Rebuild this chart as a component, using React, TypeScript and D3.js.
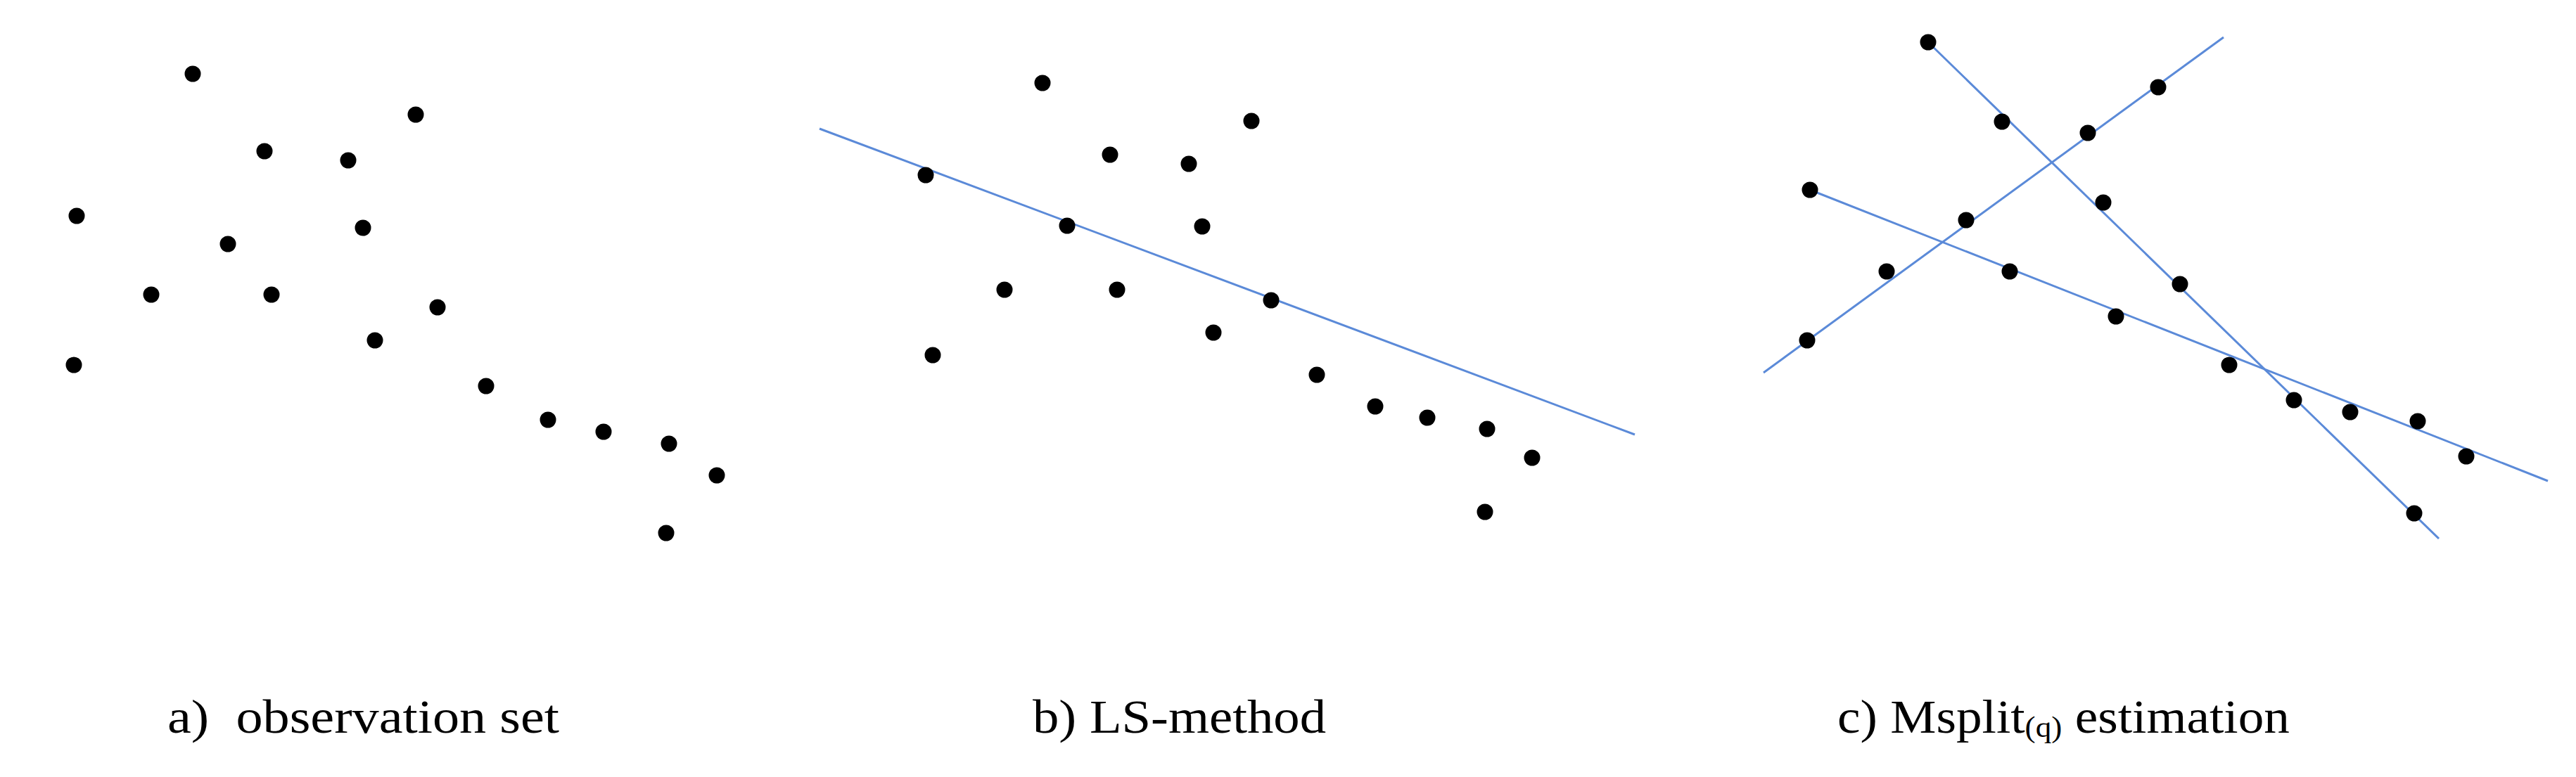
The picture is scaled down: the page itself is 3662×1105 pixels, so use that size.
import * as d3 from "d3";
import React from "react";

// observation points (x, y in plot units, y up)
const pointsA: [number, number][] = [
  [19.4, 69.5], [51.1, 63.7], [29.6, 58.5], [41.5, 57.2], [2.9, 49.3],
  [43.6, 47.6], [24.4, 45.3], [13.5, 38.1], [30.6, 38.1], [54.2, 36.3],
  [45.3, 31.6], [2.5, 28.1], [61.1, 25.1], [69.9, 20.3], [77.8, 18.6],
  [87.1, 16.9], [93.9, 12.4], [86.7, 4.2],
];

const pointsB: [number, number][] = [
  [34.2, 68.2], [63.9, 62.8], [43.8, 58.0], [55.0, 56.7], [17.6, 55.1],
  [37.7, 47.9], [56.9, 47.8], [28.8, 38.8], [44.8, 38.8], [66.7, 37.3],
  [58.5, 32.7], [18.6, 29.5], [73.2, 26.7], [81.5, 22.2], [88.9, 20.6],
  [97.4, 19.0], [103.8, 14.9], [97.1, 7.2],
];

const pointsC: [number, number][] = [
  [26.1, 74.0], [58.8, 67.6], [36.6, 62.7], [48.8, 61.1], [9.3, 53.0],
  [51.0, 51.2], [31.5, 48.7], [20.2, 41.4], [37.7, 41.4], [61.9, 39.6],
  [52.8, 35.0], [8.9, 31.6], [68.9, 28.1], [78.1, 23.1], [86.1, 21.4],
  [95.7, 20.1], [102.6, 15.1], [95.2, 7.0],
];

// fitted lines (end points)
const lineB: [number, number][][] = [
  [[2.5, 61.7], [118.4, 18.2]],
];

const linesC: [number, number][][] = [
  [[2.7, 27.0], [68.1, 74.7]],
  [[26.1, 74.0], [98.7, 3.4]],
  [[9.3, 53.0], [114.2, 11.6]],
];

const captions = ["a)\u00a0 observation set", "b) LS-method", "c) Msplit", "(q)", " estimation"];

const W = 3662;
const H = 1105;
const lineColor = "#5b8ad8";

function Panel(props: { left: number; points: [number, number][]; lines: [number, number][][] }) {
  const { left, points, lines } = props;

  // 10px per unit, y = 0 sits at 800px
  const xScale = d3.scaleLinear().domain([0, 120]).range([left, left + 1200]);
  const yScale = d3.scaleLinear().domain([0, 80]).range([800, 0]);

  const line = d3
    .line<[number, number]>()
    .x((d) => xScale(d[0]))
    .y((d) => yScale(d[1]));

  return (
    <g>
      {lines.map((l, i) => (
        <path key={"l" + i} d={line(l) || ""} fill="none" stroke={lineColor} strokeWidth={3} />
      ))}
      {points.map((p, i) => (
        <circle key={"p" + i} cx={xScale(p[0])} cy={yScale(p[1])} r={11.5} fill="#000" />
      ))}
    </g>
  );
}

export default function App() {
  const font = "'Liberation Serif', 'Times New Roman', serif";
  return (
    <svg
      width={W}
      height={H}
      style={{ position: "absolute", left: 0, top: 0, display: "block", background: "#fff" }}
    >
      <rect width={W} height={H} fill="#fff" />
      <Panel left={80} points={pointsA} lines={[]} />
      <Panel left={1140} points={pointsB} lines={lineB} />
      <Panel left={2480} points={pointsC} lines={linesC} />

      <g fontFamily={font} fontSize={68} fill="#000">
        <text x={238} y={1042} textLength={557} lengthAdjust="spacingAndGlyphs" style={{ whiteSpace: "pre" }}>
          {captions[0]}
        </text>
        <text x={1468} y={1042} textLength={417} lengthAdjust="spacingAndGlyphs">
          {captions[1]}
        </text>
        <text x={2612} y={1042} textLength={643} lengthAdjust="spacingAndGlyphs" style={{ whiteSpace: "pre" }}>
          <tspan>{captions[2]}</tspan>
          <tspan fontSize={42} dy={6}>{captions[3]}</tspan>
          <tspan dy={-6}>{captions[4]}</tspan>
        </text>
      </g>
    </svg>
  );
}
